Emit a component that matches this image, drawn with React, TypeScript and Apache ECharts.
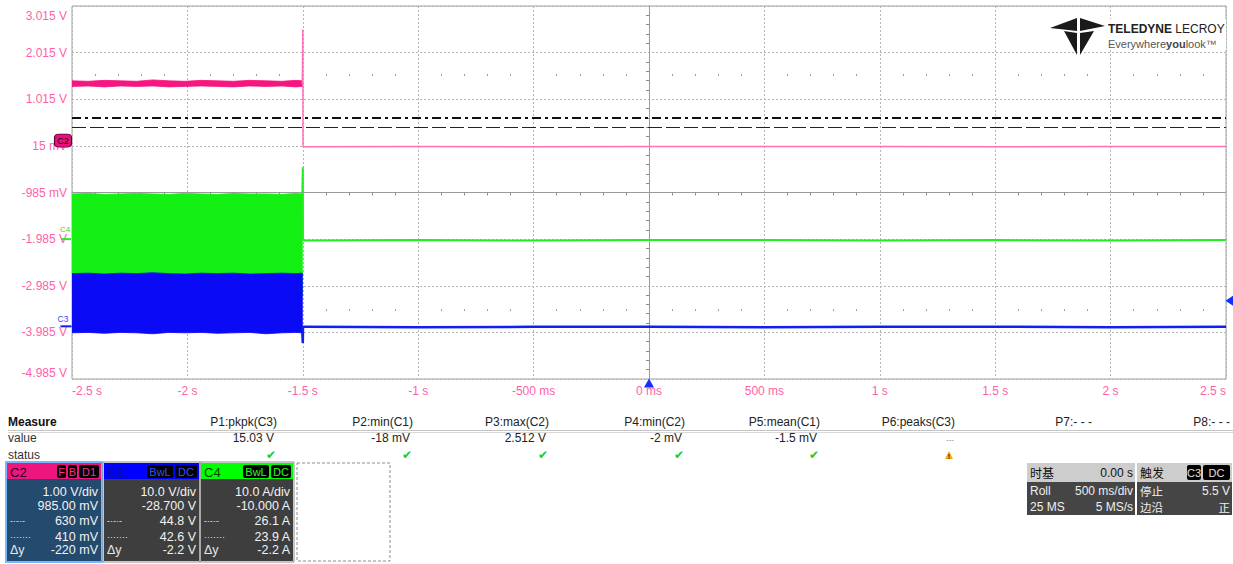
import React, { useEffect, useRef } from "react";
import * as echarts from "echarts";

const FONT = "Liberation Sans, Arial, sans-serif";
const CJK = "Noto Sans CJK SC, Liberation Sans, sans-serif";
const LABEL_PINK = "#ff5fa8";

// ---------- axes ----------
const xMin = -2.5;
const xMax = 2.5;
const xStep = 0.5;
const xTickLabels = ["-2.5 s", "-2 s", "-1.5 s", "-1 s", "-500 ms", "0 ms", "500 ms", "1 s", "1.5 s", "2 s", "2.5 s"];
// top to bottom (C2 scale)
const yTickLabels = ["3.015 V", "2.015 V", "1.015 V", "15 mV", "-985 mV", "-1.985 V", "-2.985 V", "-3.985 V", "-4.985 V"];

// ---------- channel settings (scale per div, offset) ----------
const C2 = { scale: 1, offset: 0.985 };
const C3 = { scale: 10, offset: -28.7 };
const C4 = { scale: 10, offset: -10 };
const toDiv = (v: number, ch: { scale: number; offset: number }) => (v + ch.offset) / ch.scale;

// ---------- traces ----------
const bandTime = [-2.5, -2.43, -2.36, -2.29, -2.22, -2.15, -2.08, -2.01, -1.94, -1.87, -1.8, -1.73, -1.66, -1.59, -1.53, -1.502];
const c2BandHigh = [1.41, 1.4, 1.42, 1.41, 1.4, 1.43, 1.41, 1.4, 1.42, 1.41, 1.4, 1.42, 1.41, 1.4, 1.42, 1.41];
const c2BandLow = [1.29, 1.3, 1.28, 1.3, 1.29, 1.3, 1.28, 1.29, 1.3, 1.29, 1.28, 1.3, 1.29, 1.3, 1.28, 1.29];
const c4BandHigh = [9.7, 9.8, 9.6, 9.7, 9.8, 9.7, 9.6, 9.8, 9.7, 9.6, 9.8, 9.7, 9.7, 9.6, 9.8, 9.7];
const c4BandLow = [-12, -12, -12, -12, -12, -12, -12, -12, -12, -12, -12, -12, -12, -12, -12, -12];
const c3BandHigh = [11.3, 11.4, 11.2, 11.4, 11.3, 11.5, 11.3, 11.2, 11.4, 11.3, 11.4, 11.2, 11.3, 11.4, 11.3, 11.4];
const c3BandLow = [-1.4, -1.3, -1.5, -1.3, -1.4, -1.6, -1.3, -1.4, -1.3, -1.5, -1.4, -1.3, -1.6, -1.4, -1.3, -1.4];

const traceTime = [-1.502, -1.5, -1.499, -1.49, -1.0, -0.5, 0, 0.5, 1.0, 1.5, 2.0, 2.5];
const c2Trace = [1.35, 2.512, 0.0, -0.002, 0.0, -0.002, 0.0, -0.001, 0.0, -0.002, 0.0, 0.0];
const c4Trace = [9.7, 15.4, -0.2, -0.3, -0.2, -0.3, -0.2, -0.2, -0.3, -0.2, -0.3, -0.2];
const c3Trace = [-1.4, -3.6, -0.1, -0.1, -0.2, -0.1, -0.1, -0.2, -0.1, -0.1, -0.2, -0.1];

// cursors (C2) and trigger (C3)
const c2Cursors = [0.63, 0.41];
const triggerTime = 0;
const triggerLevelC3 = 5.5;

// ---------- measure table ----------
const measureHeaders = ["P1:pkpk(C3)", "P2:min(C1)", "P3:max(C2)", "P4:min(C2)", "P5:mean(C1)", "P6:peaks(C3)", "P7:- - -", "P8:- - -"];
const measureValues = ["15.03 V", "-18 mV", "2.512 V", "-2 mV", "-1.5 mV", "---", "", ""];
const measureStatus = ["ok", "ok", "ok", "ok", "ok", "warn", "", ""];

// ---------- channel boxes ----------
const channelNames = ["C2", "C3", "C4"];
const channelBadges = [["F", "B", "D1"], ["BwL", "DC"], ["BwL", "DC"]];
const channelRows = [
  ["1.00 V/div", "985.00 mV", "630 mV", "410 mV", "-220 mV"],
  ["10.0 V/div", "-28.700 V", "44.8 V", "42.6 V", "-2.2 V"],
  ["10.0 A/div", "-10.000 A", "26.1 A", "23.9 A", "-2.2 A"],
];
const rowMarks = ["", "", "-·-·-", "·······", "Δy"];

const timebaseHeader = ["时基", "0.00 s"];
const timebaseRows = [["Roll", "500 ms/div"], ["25 MS", "5 MS/s"]];
const triggerHeader = "触发";
const triggerBadges = ["C3", "DC"];
const triggerRows = [["停止", "5.5 V"], ["边沿", "正"]];

// ---------- helpers ----------
function T(x: number, y: number, text: string, o: any = {}) {
  const align = o.align || "left";
  return {
    type: "text",
    x,
    y,
    silent: true,
    z: 50,
    style: {
      text,
      fill: o.fill || "#222",
      fontSize: o.size || 12,
      fontFamily: o.family || FONT,
      fontWeight: o.weight || "normal",
      align,
      textAlign: align,
      verticalAlign: "middle",
      textVerticalAlign: "middle",
      rich: o.rich,
    },
  };
}
function R(x: number, y: number, w: number, h: number, o: any = {}) {
  return {
    type: "rect",
    silent: true,
    z: o.z || 40,
    shape: { x, y, width: w, height: h, r: o.r || 0 },
    style: {
      fill: o.fill || "none",
      stroke: o.stroke || "none",
      lineWidth: o.lw || 1,
      lineDash: o.dash,
    },
  };
}
function L(x1: number, y1: number, x2: number, y2: number, stroke: string, lw = 1) {
  return { type: "line", silent: true, z: 40, shape: { x1, y1, x2, y2 }, style: { stroke, lineWidth: lw } };
}
function P(points: number[][], fill: string) {
  return { type: "polygon", silent: true, z: 45, shape: { points }, style: { fill } };
}

function band(name: string, color: string, t: number[], lo: number[], hi: number[], ch: any, z: number) {
  const data = t.map((tt, i) => [tt, toDiv(lo[i], ch), toDiv(hi[i], ch)]);
  return {
    type: "custom",
    name,
    z,
    silent: true,
    clip: true,
    encode: { x: 0, y: [1, 2] },
    data,
    renderItem: (params: any, api: any) => {
      if (params.dataIndex !== 0) return { type: "group", children: [] };
      const up = data.map((d) => api.coord([d[0], d[2]]));
      const dn = data.map((d) => api.coord([d[0], d[1]])).reverse();
      return {
        type: "polygon",
        shape: { points: up.concat(dn) },
        style: { fill: color, stroke: color, lineWidth: 0.8 },
      };
    },
  };
}

function trace(name: string, color: string, width: number, t: number[], v: number[], ch: any, extra: any = {}) {
  return {
    type: "line",
    name,
    z: 3,
    silent: true,
    showSymbol: false,
    symbol: "none",
    data: t.map((tt, i) => [tt, toDiv(v[i], ch)]),
    lineStyle: { color, width },
    itemStyle: { color },
    ...extra,
  };
}

function buildGraphics() {
  const g: any[] = [];
  // logo
  g.push(R(1046, 19, 180, 31, { fill: "#ffffff", z: 30 }));
  g.push(P([[1050, 28], [1077, 18], [1077, 31]], "#1a1a1a"));
  g.push(P([[1105, 26], [1080, 18], [1080, 31]], "#1a1a1a"));
  g.push(P([[1064, 31], [1077, 33], [1077, 55]], "#1a1a1a"));
  g.push(P([[1080, 33], [1094, 31], [1080, 55]], "#1a1a1a"));
  g.push(
    T(1108, 29, "{b|TELEDYNE} {n|LECROY}", {
      size: 12,
      rich: {
        b: { fontWeight: "bold", fontSize: 12, fontFamily: FONT, fill: "#222" },
        n: { fontSize: 12, fontFamily: FONT, fill: "#222" },
      },
    })
  );
  g.push(
    T(1108, 44, "{n|Everywhere}{b|you}{n|look™}", {
      size: 11,
      rich: {
        b: { fontWeight: "bold", fontSize: 11, fontFamily: FONT, fill: "#444" },
        n: { fontSize: 11, fontFamily: FONT, fill: "#555" },
      },
    })
  );

  // measure table
  const colRight = [277, 413, 549, 685, 820, 955, 1092, 1230];
  g.push(T(8, 422, "Measure", { weight: "bold", fill: "#111" }));
  g.push(L(8, 430.5, 1233, 430.5, "#c4c4c4"));
  g.push(L(8, 432.5, 1233, 432.5, "#d8d8d8"));
  g.push(T(8, 438, "value", { fill: "#333" }));
  g.push(T(8, 455, "status", { fill: "#333" }));
  measureHeaders.forEach((h, i) => g.push(T(colRight[i], 422, h, { align: "right", fill: "#222" })));
  measureValues.forEach((v, i) => {
    if (!v) return;
    if (v === "---") g.push(T(colRight[i] - 5, 439, "---", { align: "center", fill: "#888", size: 8 }));
    else g.push(T(colRight[i] - 3, 438, v, { align: "right", fill: "#222" }));
  });
  measureStatus.forEach((s, i) => {
    const cx = colRight[i] - 6;
    if (s === "ok") g.push(T(cx, 455, "✔", { align: "center", fill: "#22cc22", size: 12, family: "DejaVu Sans" }));
    if (s === "warn") {
      g.push(P([[cx - 4, 459], [cx + 4, 459], [cx, 451]], "#f2b000"));
      g.push(T(cx, 456, "!", { align: "center", fill: "#222", size: 7, weight: "bold" }));
    }
  });

  // channel boxes
  const boxX = [7, 104, 201];
  const boxW = [94, 95, 92];
  const headFill = ["#ee157e", "#0000ff", "#00ff00"];
  const headText = ["#2a0014", "#10108a", "#004400"];
  const badgeText = ["#ff2a95", "#3050ff", "#22ff22"];
  const bodyFill = ["#244a6e", "#3e3e3e", "#3e3e3e"];
  const badgeW = [[9, 9, 20], [26, 22], [26, 20]];
  const rowY = [491.5, 506, 521, 536.5, 550];
  channelNames.forEach((name, i) => {
    const x0 = boxX[i];
    const w = boxW[i];
    const y0 = 463;
    const h = 98;
    g.push(R(x0, y0 + 16, w, h - 16, { fill: bodyFill[i] }));
    g.push(R(x0, y0, w, 16, { fill: headFill[i] }));
    g.push(
      R(x0 - 1, y0 - 1, w + 2, h + 2, {
        stroke: i === 0 ? "#4aa3ff" : "#8c8c8c",
        lw: i === 0 ? 1.5 : 1,
        z: 42,
      })
    );
    g.push(T(x0 + 3, y0 + 9, name, { fill: headText[i], size: 13 }));
    let bx = x0 + w - 2;
    const bw = badgeW[i];
    for (let k = channelBadges[i].length - 1; k >= 0; k--) {
      bx -= bw[k];
      g.push(R(bx, y0 + 2, bw[k], 13, { fill: "#000", r: 2, z: 44 }));
      g.push(T(bx + bw[k] / 2, y0 + 9, channelBadges[i][k], { align: "center", fill: badgeText[i], size: 11 }));
      bx -= 2;
    }
    channelRows[i].forEach((v, r) => {
      g.push(T(x0 + w - 3, rowY[r], v, { align: "right", fill: "#f2f2f2", size: 12.5 }));
      if (rowMarks[r]) g.push(T(x0 + 3, rowY[r], rowMarks[r], { fill: "#e6e6e6", size: r === 4 ? 12.5 : 9 }));
    });
  });
  g.push(R(297, 463, 93, 98, { stroke: "#8c8c8c", dash: [3, 2] }));

  // timebase box
  g.push(R(1027, 463, 108, 19, { fill: "#cdcdcd" }));
  g.push(R(1027, 482, 108, 33, { fill: "#454545" }));
  g.push(T(1030, 472.5, timebaseHeader[0], { family: CJK, size: 12, fill: "#111" }));
  g.push(T(1133, 472.5, timebaseHeader[1], { align: "right", fill: "#111" }));
  timebaseRows.forEach((row, r) => {
    const y = r === 0 ? 490.5 : 506.5;
    g.push(T(1030, y, row[0], { fill: "#eeeeee" }));
    g.push(T(1133, y, row[1], { align: "right", fill: "#eeeeee" }));
  });
  // trigger box
  g.push(R(1137, 463, 95, 19, { fill: "#cdcdcd" }));
  g.push(R(1137, 482, 95, 33, { fill: "#454545" }));
  g.push(T(1140, 472.5, triggerHeader, { family: CJK, size: 12, fill: "#111" }));
  const tbX = [1187, 1203];
  const tbW = [14, 27];
  triggerBadges.forEach((b, k) => {
    g.push(R(tbX[k], 465, tbW[k], 15, { fill: "#000", r: 2, z: 44 }));
    g.push(T(tbX[k] + tbW[k] / 2, 472.5, b, { align: "center", fill: "#e0e0e0", size: 11 }));
  });
  triggerRows.forEach((row, r) => {
    const y = r === 0 ? 490.5 : 506.5;
    g.push(T(1140, y, row[0], { family: CJK, size: 11.5, fill: "#eeeeee" }));
    g.push(T(1230, y, row[1], { align: "right", fill: "#eeeeee", family: r === 1 ? CJK : FONT, size: r === 1 ? 11.5 : 12 }));
  });
  return g;
}

function buildOption() {
  const gridTop = 6;
  const gridH = 373;
  const rowOff = (gridH * 1.5) / 8;
  const splitStyle = { color: "#b5b5b5", type: [2, 2], width: 1 };
  const fx = (v: number) => xTickLabels[Math.round((v - xMin) / xStep)] || "";
  const fy = (v: number) => {
    const idx = Math.round(4 - v);
    const s = yTickLabels[idx] || "";
    return idx === 0 ? `{top|${s}}` : s;
  };
  const baseX = { type: "value", min: xMin, max: xMax, interval: xStep, gridIndex: 0 };
  const hiddenTicks = { show: false };

  return {
    animation: false,
    backgroundColor: "#ffffff",
    grid: {
      left: 72,
      top: gridTop,
      width: 1154,
      height: gridH,
      show: true,
      borderColor: "#a0a0a0",
      borderWidth: 1,
      backgroundColor: "transparent",
      containLabel: false,
      outerBoundsMode: "none",
    },
    xAxis: [
      {
        ...baseX,
        position: "bottom",
        axisLine: { show: false, onZero: false },
        axisTick: hiddenTicks,
        splitLine: { show: true, lineStyle: splitStyle },
        axisLabel: {
          color: LABEL_PINK,
          fontSize: 12,
          fontFamily: FONT,
          margin: 6,
          formatter: fx,
          alignMinLabel: "left",
          alignMaxLabel: "right",
          showMinLabel: true,
          showMaxLabel: true,
          hideOverlap: false,
        },
      },
      {
        ...baseX,
        position: "bottom",
        axisLine: { show: true, onZero: true, lineStyle: { color: "#9a9a9a", width: 1 } },
        axisTick: hiddenTicks,
        minorTick: { show: true, splitNumber: 5, length: 3, lineStyle: { color: "#8a8a8a", width: 1 } },
        axisLabel: { show: false },
        splitLine: { show: false },
        minorSplitLine: { show: false },
      },
      {
        ...baseX,
        position: "top",
        offset: -rowOff,
        axisLine: { show: false, onZero: false },
        axisTick: hiddenTicks,
        minorTick: { show: true, splitNumber: 5, length: 2, lineStyle: { color: "#a0a0a0", width: 1 } },
        axisLabel: { show: false },
        splitLine: { show: false },
      },
      {
        ...baseX,
        position: "bottom",
        offset: -rowOff,
        axisLine: { show: false, onZero: false },
        axisTick: hiddenTicks,
        minorTick: { show: true, splitNumber: 5, length: 2, lineStyle: { color: "#a0a0a0", width: 1 } },
        axisLabel: { show: false },
        splitLine: { show: false },
      },
    ],
    yAxis: [
      {
        type: "value",
        min: -4,
        max: 4,
        interval: 1,
        position: "left",
        axisLine: { show: false, onZero: false },
        axisTick: hiddenTicks,
        splitLine: { show: true, lineStyle: splitStyle },
        axisLabel: {
          color: LABEL_PINK,
          fontSize: 12,
          fontFamily: FONT,
          margin: 5,
          formatter: fy,
          verticalAlignMinLabel: "bottom",
          verticalAlignMaxLabel: "top",
          showMinLabel: true,
          showMaxLabel: true,
          hideOverlap: false,
          rich: { top: { color: LABEL_PINK, fontSize: 12, fontFamily: FONT, padding: [4, 0, 0, 0] } },
        },
      },
      {
        type: "value",
        min: -4,
        max: 4,
        interval: 1,
        position: "left",
        axisLine: { show: true, onZero: true, lineStyle: { color: "#9a9a9a", width: 1 } },
        axisTick: hiddenTicks,
        minorTick: { show: true, splitNumber: 5, length: 3, lineStyle: { color: "#8a8a8a", width: 1 } },
        axisLabel: { show: false },
        splitLine: { show: false },
      },
    ],
    series: [
      band("C4 band", "#14f014", bandTime, c4BandLow, c4BandHigh, C4, 2),
      band("C3 band", "#0a0af5", bandTime, c3BandLow, c3BandHigh, C3, 2),
      band("C2 band", "#f5167f", bandTime, c2BandLow, c2BandHigh, C2, 2),
      trace("C4", "#22ee22", 2, traceTime, c4Trace, C4, {
        markPoint: {
          silent: true,
          animation: false,
          data: [
            {
              coord: [xMin, toDiv(0, C4)],
              symbol: "rect",
              symbolSize: [10, 2],
              symbolOffset: [-6, 0],
              itemStyle: { color: "#22ee22" },
              label: { show: true, position: "top", distance: 4, offset: [-1, -1], formatter: "C4", color: "#33dd33", fontSize: 8, fontFamily: FONT },
            },
          ],
        },
      }),
      trace("C3", "#1020f0", 2.5, traceTime, c3Trace, C3, {
        markPoint: {
          silent: true,
          animation: false,
          data: [
            {
              coord: [xMin, toDiv(0, C3)],
              symbol: "rect",
              symbolSize: [11, 2],
              symbolOffset: [-6, 0],
              itemStyle: { color: "#1020f0" },
              label: { show: true, position: "top", distance: 2, offset: [-3, 0], formatter: "C3", color: "#3344ff", fontSize: 8.5, fontFamily: FONT },
            },
            {
              coord: [triggerTime, -4],
              symbol: "triangle",
              symbolSize: [10, 9],
              symbolOffset: [0, 4],
              itemStyle: { color: "#1030ff" },
              label: { show: false },
            },
            {
              coord: [xMax, toDiv(triggerLevelC3, C3)],
              symbol: "triangle",
              symbolRotate: 90,
              symbolSize: [12, 9],
              symbolOffset: [4, 0],
              itemStyle: { color: "#1030ff" },
              label: { show: false },
            },
          ],
        },
      }),
      trace("C2", "#ff70b8", 1.5, traceTime, c2Trace, C2, {
        markLine: {
          silent: true,
          animation: false,
          symbol: ["none", "none"],
          label: { show: false },
          data: [
            { yAxis: toDiv(c2Cursors[0], C2), lineStyle: { color: "#111111", width: 2, type: [9, 4, 3, 4] } },
            { yAxis: toDiv(c2Cursors[1], C2), lineStyle: { color: "#222222", width: 1.2, type: [14, 4] } },
          ],
        },
        markPoint: {
          silent: true,
          animation: false,
          data: [
            {
              coord: [xMin, toDiv(0, C2)],
              symbol: "roundRect",
              symbolSize: [17, 13],
              symbolOffset: [-9, -6],
              itemStyle: { color: "#e6127c", borderColor: "#5a0030", borderWidth: 1 },
              label: { show: true, position: "inside", formatter: "C2", color: "#2a0014", fontSize: 9, fontFamily: FONT },
            },
          ],
        },
      }),
    ],
    graphic: { elements: buildGraphics() },
  };
}

export default function App() {
  const ref = useRef<HTMLDivElement>(null);
  useEffect(() => {
    if (!ref.current) return;
    const chart = echarts.init(ref.current, null, { renderer: "svg" });
    chart.setOption(buildOption() as any);
    return () => chart.dispose();
  }, []);
  return (
    <div
      ref={ref}
      style={{ position: "absolute", left: 0, top: 0, width: 1233, height: 564, background: "#ffffff" }}
    />
  );
}
